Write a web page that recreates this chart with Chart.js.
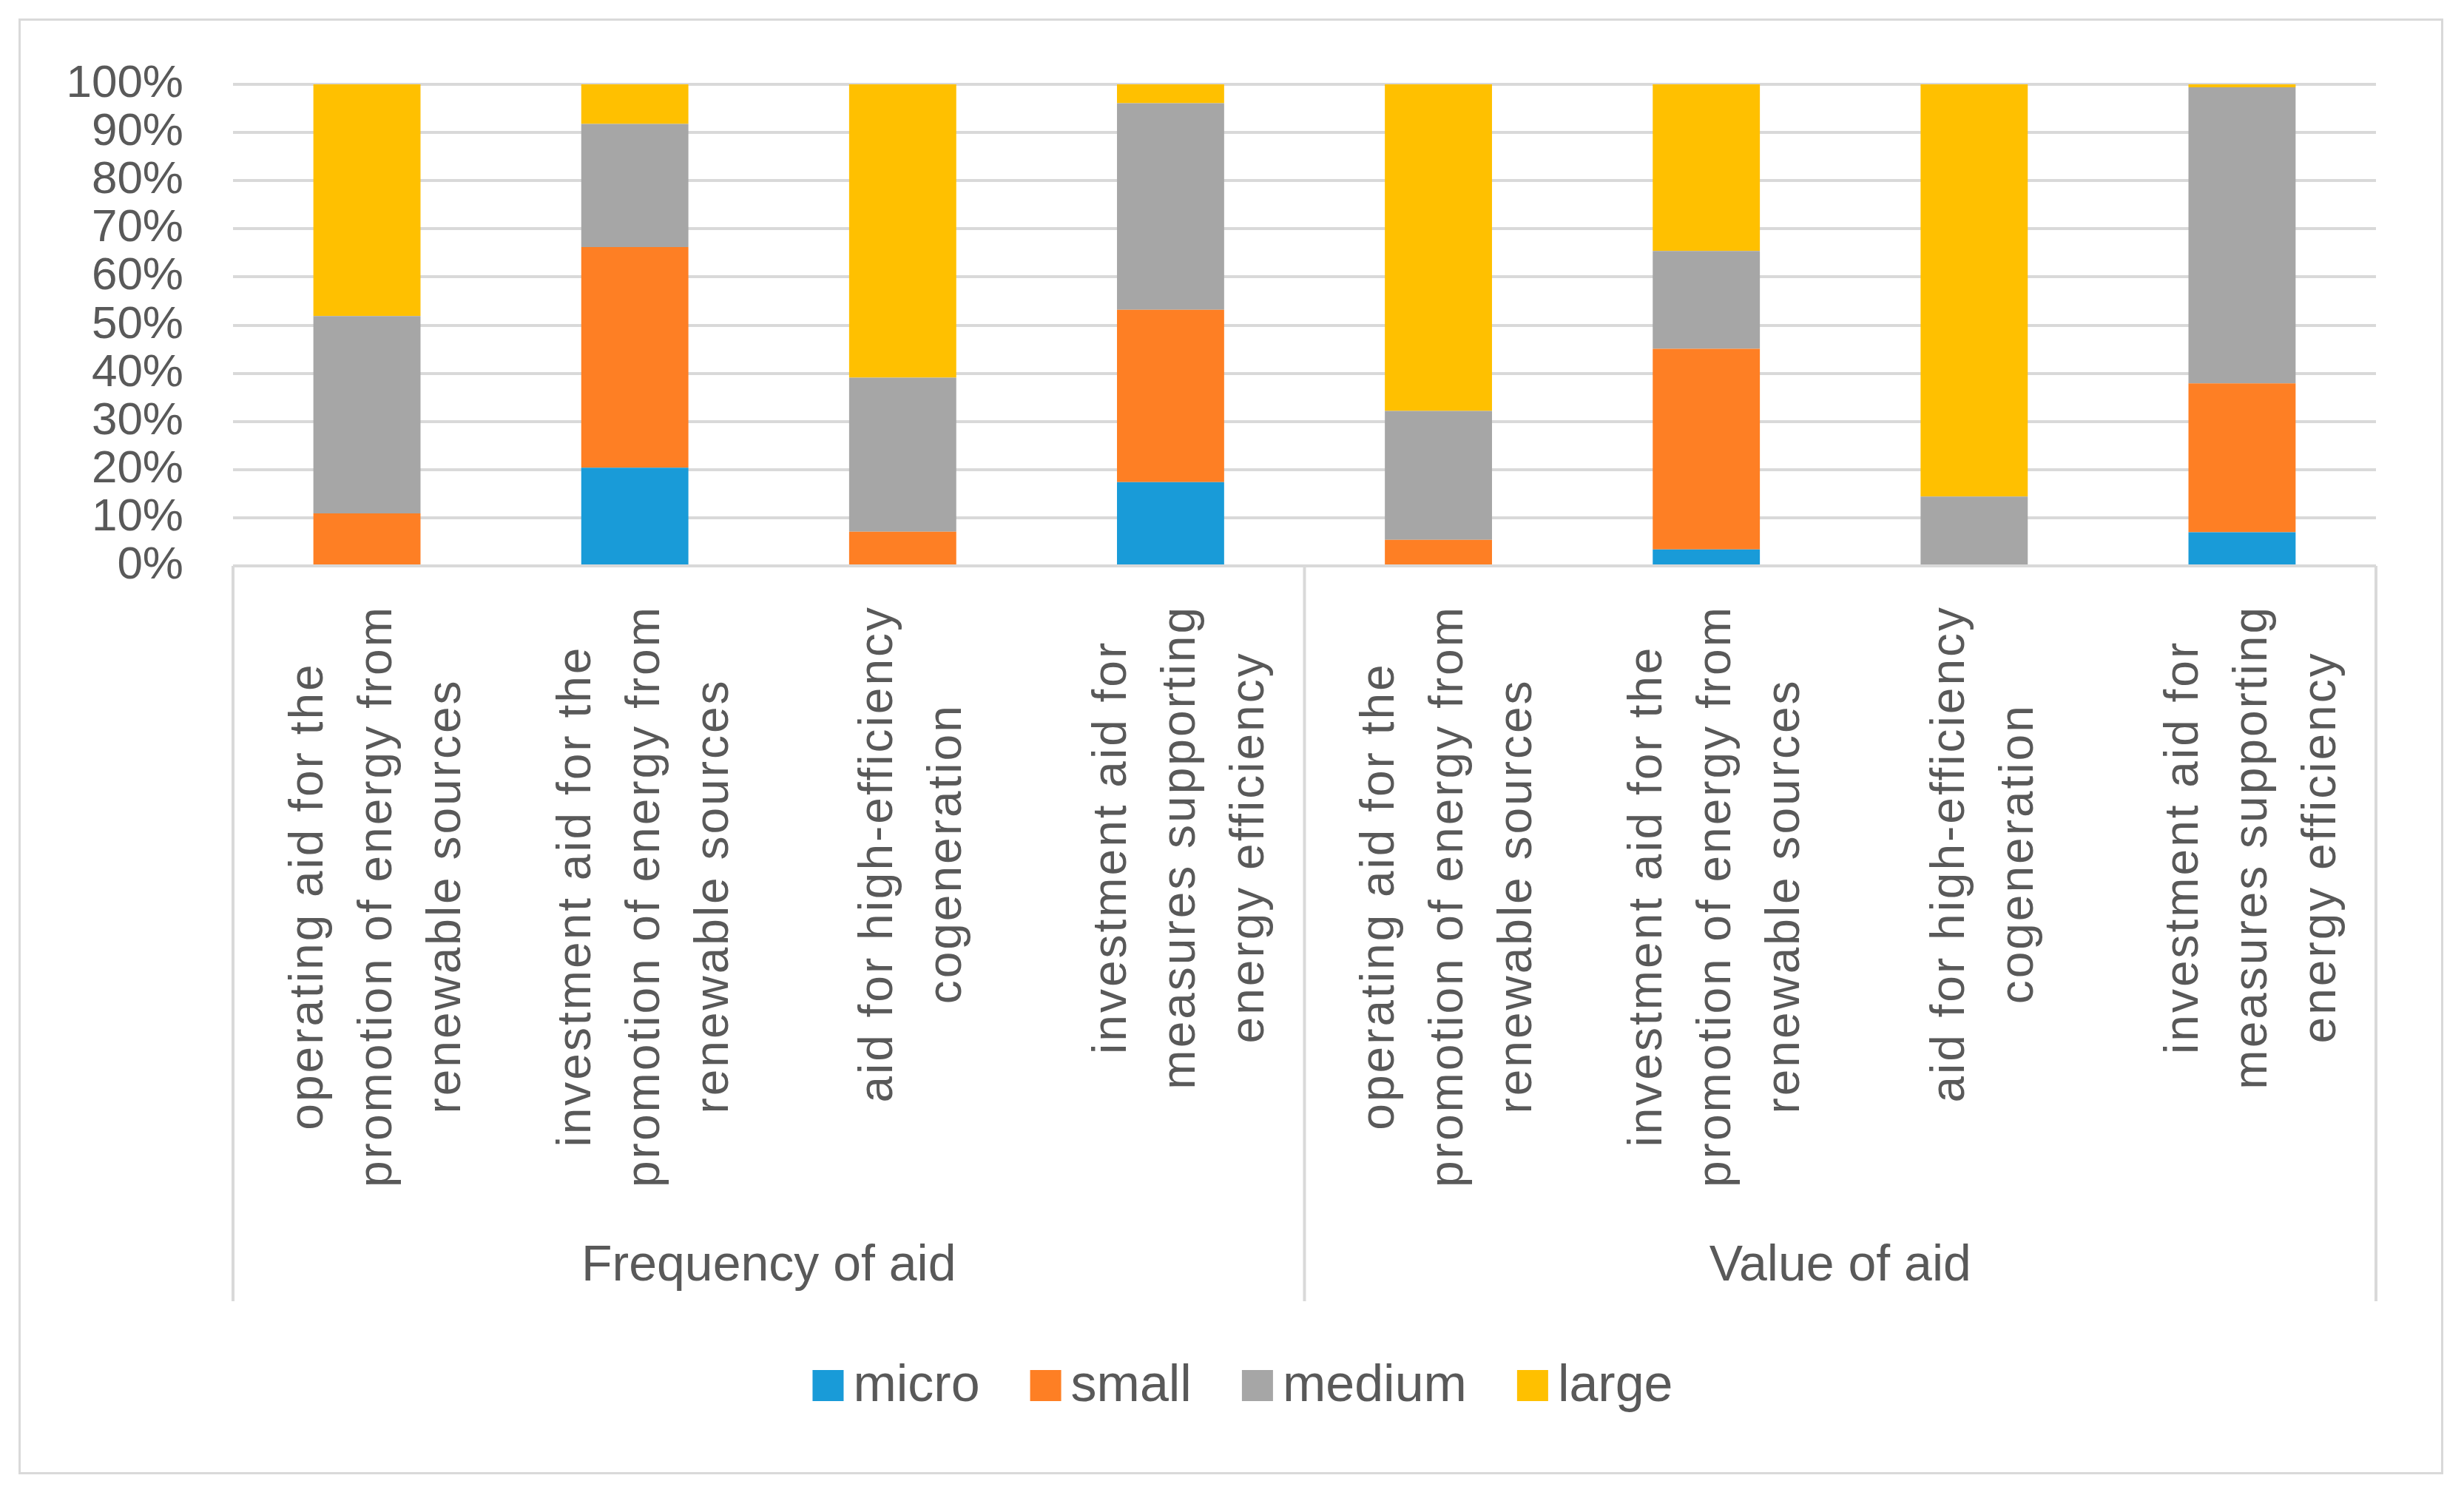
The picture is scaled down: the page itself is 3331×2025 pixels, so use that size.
<!DOCTYPE html>
<html>
<head>
<meta charset="utf-8">
<script src="https://cdn.jsdelivr.net/npm/chart.js@4.4.1/dist/chart.umd.min.js"></script>
<style>
  html, body { margin: 0; padding: 0; background: #fff; }
  #frame { position: absolute; left: 25px; top: 25px; width: 3278px; height: 1968px; border: 3px solid #d9d9d9; box-sizing: border-box; }
  #chart { width: 100%; height: 100%; }
</style>
</head>
<body>
<div id="frame"><canvas id="chart"></canvas></div>
<script>
// category labels, one array of lines per bar
const categories = [
  ['operating aid for the', 'promotion of energy from', 'renewable sources'],
  ['investment aid for the', 'promotion of energy from', 'renewable sources'],
  ['aid for high-efficiency', 'cogeneration'],
  ['investment aid for', 'measures supporting', 'energy efficiency'],
  ['operating aid for the', 'promotion of energy from', 'renewable sources'],
  ['investment aid for the', 'promotion of energy from', 'renewable sources'],
  ['aid for high-efficiency', 'cogeneration'],
  ['investment aid for', 'measures supporting', 'energy efficiency'],
];
const groups = ['Frequency of aid', 'Value of aid'];

// shares in %
const micro  = [0, 20.4, 0, 17.4, 0, 3.4, 0, 7.0];
const small  = [10.9, 45.8, 7.1, 35.8, 5.4, 41.7, 0, 30.9];
const medium = [41.0, 25.6, 32.0, 42.9, 26.8, 20.3, 14.4, 61.5];
const large  = [48.1, 8.2, 60.9, 3.9, 67.8, 34.6, 85.6, 0.6];

const FONT = '"Liberation Sans", Arial, sans-serif';
const TEXT = '#595959';
const LINE = '#d9d9d9';

Chart.defaults.animation = false;
Chart.defaults.font.family = FONT;
Chart.defaults.color = TEXT;

// draws the two-level category axis (rotated labels + group labels + separators) and the legend
const categoryAxis = {
  id: 'categoryAxis',
  afterDraw(chart) {
    const { ctx, chartArea, scales } = chart;
    const x = scales.x;
    const base = chartArea.bottom;
    const mid = (x.getPixelForValue(3) + x.getPixelForValue(4)) / 2;
    ctx.save();

    ctx.strokeStyle = LINE;
    ctx.lineWidth = 4;
    [chartArea.left, mid, chartArea.right].forEach((px) => {
      ctx.beginPath();
      ctx.moveTo(px, base);
      ctx.lineTo(px, base + 994);
      ctx.stroke();
    });

    ctx.fillStyle = TEXT;
    ctx.textAlign = 'center';
    ctx.textBaseline = 'middle';
    ctx.font = '64px ' + FONT;
    ctx.letterSpacing = '3px';
    categories.forEach((lines, i) => {
      const maxW = Math.max(...lines.map((l) => ctx.measureText(l).width));
      ctx.save();
      ctx.translate(x.getPixelForValue(i) + 15, base + 53 + maxW / 2);
      ctx.rotate(-Math.PI / 2);
      lines.forEach((l, j) => ctx.fillText(l, 0, (j - (lines.length - 1) / 2) * 93));
      ctx.restore();
    });

    ctx.letterSpacing = '0px';
    ctx.font = '68px ' + FONT;
    ctx.fillText(groups[0], (chartArea.left + mid) / 2, base + 947);
    ctx.fillText(groups[1], (mid + chartArea.right) / 2, base + 947);

    // legend: square, 13px gap, text, 68px gap
    ctx.font = '70px ' + FONT;
    ctx.textAlign = 'left';
    const items = chart.data.datasets.map((d) => ({ text: d.label, color: d.backgroundColor, w: ctx.measureText(d.label).width }));
    const total = items.reduce((a, it) => a + 42 + 13 + it.w, 0) + 68 * (items.length - 1);
    let lx = 1652 - total / 2;
    const ly = base + 1108;
    items.forEach((it) => {
      ctx.fillStyle = it.color;
      ctx.fillRect(lx, ly - 21, 42, 42);
      ctx.fillStyle = TEXT;
      ctx.fillText(it.text, lx + 55, ly + 2);
      lx += 55 + it.w + 68;
    });
    ctx.restore();
  }
};

const ds = (label, data, color) => ({
  label, data, backgroundColor: color, borderWidth: 0,
  barPercentage: 0.4, categoryPercentage: 1
});

new Chart(document.getElementById('chart'), {
  type: 'bar',
  data: {
    labels: categories.map((l) => l.join(' ')),
    datasets: [
      ds('micro', micro, '#199bd8'),
      ds('small', small, '#fe7f24'),
      ds('medium', medium, '#a6a6a6'),
      ds('large', large, '#ffc000'),
    ]
  },
  options: {
    responsive: true,
    maintainAspectRatio: false,
    layout: { padding: { top: 86, right: 88, bottom: 198, left: 0 } },
    plugins: {
      tooltip: { enabled: false },
      legend: { display: false }
    },
    scales: {
      x: {
        stacked: true,
        ticks: { display: false },
        grid: { display: false },
        border: { display: false },
        afterFit: (s) => { s.height = 1027; }
      },
      y: {
        stacked: true,
        min: 0,
        max: 100,
        ticks: { stepSize: 10, autoSkip: false, callback: (v) => v + '%', font: { size: 62 }, color: TEXT, padding: 67 },
        grid: { color: LINE, lineWidth: 4, drawTicks: false, tickLength: 0 },
        border: { display: false },
        afterFit: (s) => { s.width = 287; s.paddingTop = 37; s.paddingBottom = 37; }
      }
    }
  },
  plugins: [categoryAxis]
});
</script>
</body>
</html>
